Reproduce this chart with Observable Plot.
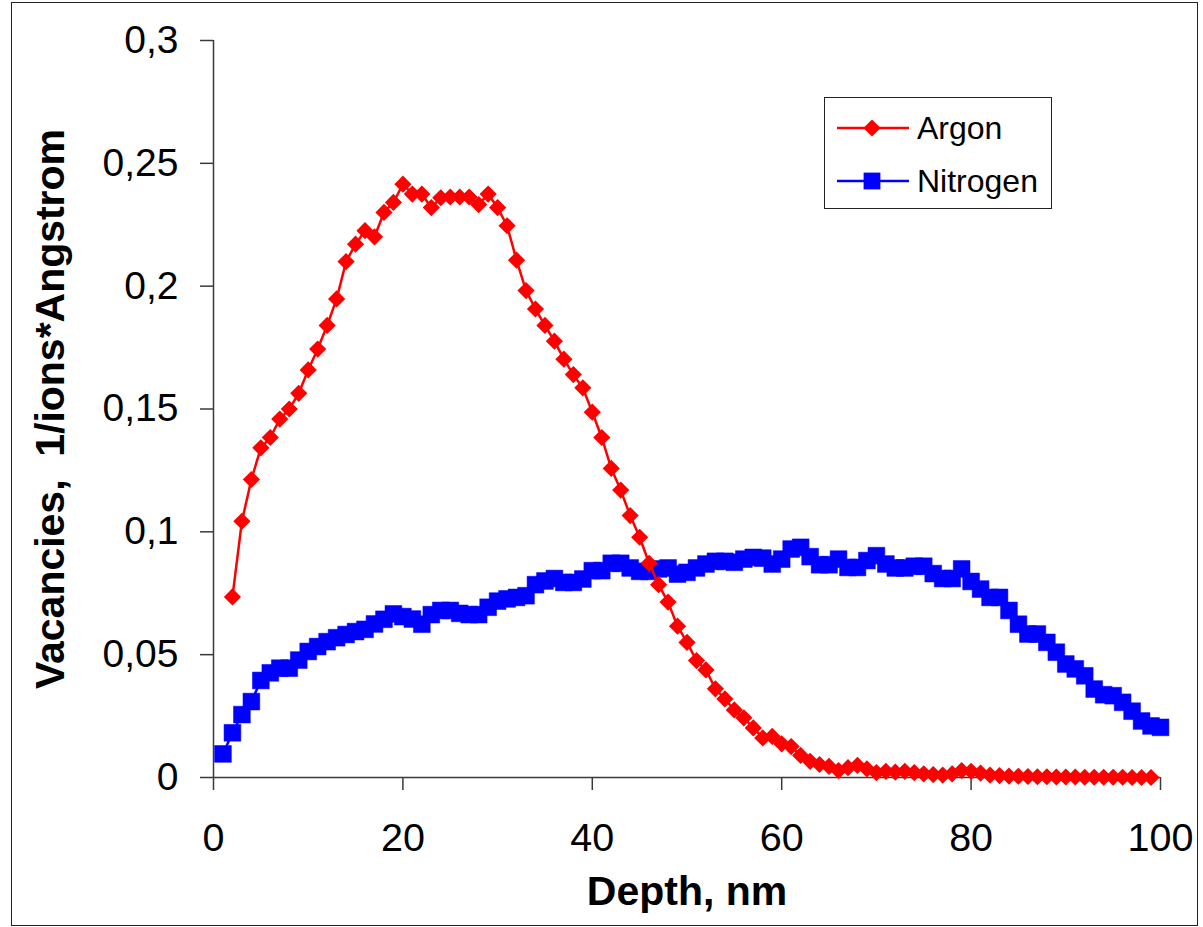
<!DOCTYPE html>
<html>
<head>
<meta charset="utf-8">
<script src="https://cdn.jsdelivr.net/npm/d3@7"></script>
<script src="https://cdn.jsdelivr.net/npm/@observablehq/plot@0.6"></script>
<style>
  html, body { margin: 0; padding: 0; background: #fff; }
  #wrap { position: relative; width: 1203px; height: 927px; font-family: "Liberation Sans", Arial, sans-serif; }
  #outer { position: absolute; left: 11px; top: 2px; width: 1187px; height: 924px; border: 1.5px solid #222; pointer-events: none; box-sizing: border-box; }
  #legend { position: absolute; left: 824px; top: 97px; width: 228px; height: 112px; border: 1.5px solid #222; background: #fff; box-sizing: border-box; }
  .lg-item { position: absolute; left: 0; width: 100%; height: 40px; }
  .lg-item svg { position: absolute; left: 0; top: 0; }
  .lg-item span { position: absolute; left: 92px; font-size: 32px; line-height: 32px; color: #000; white-space: nowrap; }
</style>
</head>
<body>
<div id="wrap">
  <div id="chart"></div>
  <div id="legend"></div>
  <div id="outer"></div>
</div>
<script>
// ---- Data ----
const seriesNames = ["Argon", "Nitrogen"];
const seriesColors = ["#ff0000", "#0000ff"];

const argonDepth = [
  2,3,4,5,6,7,8,9,10,11,
  12,13,14,15,16,17,18,19,20,21,
  22,23,24,25,26,27,28,29,30,31,
  32,33,34,35,36,37,38,39,40,41,
  42,43,44,45,46,47,48,49,50,51,
  52,53,54,55,56,57,58,59,60,61,
  62,63,64,65,66,67,68,69,70,71,
  72,73,74,75,76,77,78,79,80,81,
  82,83,84,85,86,87,88,89,90,91,
  92,93,94,95,96,97,98,99
];
const argonVacancies = [
  0.0735,0.1043,0.1213,0.1342,0.1384,0.1459,0.1500,0.1564,0.1659,0.1744,
  0.1840,0.1948,0.2100,0.2171,0.2226,0.2201,0.2300,0.2341,0.2415,0.2375,
  0.2375,0.2320,0.2360,0.2363,0.2363,0.2363,0.2332,0.2375,0.2320,0.2246,
  0.2106,0.1982,0.1907,0.1840,0.1776,0.1703,0.1640,0.1586,0.1487,0.1384,
  0.1258,0.1170,0.1066,0.0978,0.0872,0.0785,0.0714,0.0616,0.0550,0.0476,
  0.0438,0.0361,0.0320,0.0275,0.0243,0.0202,0.0161,0.0167,0.0137,0.0126,
  0.0090,0.0066,0.0053,0.0045,0.0028,0.0040,0.0049,0.0035,0.0020,0.0025,
  0.0022,0.0025,0.0020,0.0015,0.0012,0.0010,0.0015,0.0028,0.0025,0.0018,
  0.0010,0.0008,0.0006,0.0005,0.0004,0.0003,0.0003,0.0002,0.0002,0.0002,
  0.0001,0.0001,0.0001,0.0001,0.0001,0.0000,0.0000,0.0000
];

const nitrogenDepth = [
  1,2,3,4,5,6,7,8,9,10,
  11,12,13,14,15,16,17,18,19,20,
  21,22,23,24,25,26,27,28,29,30,
  31,32,33,34,35,36,37,38,39,40,
  41,42,43,44,45,46,47,48,49,50,
  51,52,53,54,55,56,57,58,59,60,
  61,62,63,64,65,66,67,68,69,70,
  71,72,73,74,75,76,77,78,79,80,
  81,82,83,84,85,86,87,88,89,90,
  91,92,93,94,95,96,97,98,99,100
];
const nitrogenVacancies = [
  0.0096,0.0182,0.0256,0.0309,0.0395,0.0426,0.0445,0.0445,0.0478,0.0513,
  0.0533,0.0553,0.0569,0.0582,0.0594,0.0603,0.0625,0.0644,0.0666,0.0655,
  0.0645,0.0624,0.0663,0.0680,0.0680,0.0668,0.0663,0.0663,0.0693,0.0718,
  0.0727,0.0733,0.0740,0.0785,0.0800,0.0810,0.0794,0.0794,0.0808,0.0842,
  0.0842,0.0872,0.0872,0.0853,0.0839,0.0839,0.0849,0.0853,0.0828,0.0835,
  0.0853,0.0869,0.0880,0.0880,0.0876,0.0889,0.0896,0.0893,0.0869,0.0889,
  0.0930,0.0937,0.0899,0.0866,0.0866,0.0889,0.0855,0.0855,0.0883,0.0903,
  0.0869,0.0853,0.0853,0.0860,0.0860,0.0830,0.0810,0.0810,0.0849,0.0798,
  0.0767,0.0733,0.0733,0.0680,0.0624,0.0584,0.0584,0.0550,0.0510,0.0462,
  0.0442,0.0414,0.0360,0.0337,0.0333,0.0306,0.0270,0.0230,0.0210,0.0204
];

const xTicks = [0, 20, 40, 60, 80, 100];
const xTickLabels = ["0", "20", "40", "60", "80", "100"];
const yTicks = [0, 0.05, 0.1, 0.15, 0.2, 0.25, 0.3];
const yTickLabels = ["0", "0,05", "0,1", "0,15", "0,2", "0,25", "0,3"];
const xTitle = "Depth, nm";
const yTitle = "Vacancies,  1/ions*Angstrom";

// ---- Build tables ----
const argon = argonDepth.map((d, i) => ({depth: d, v: argonVacancies[i]}));
const nitrogen = nitrogenDepth.map((d, i) => ({depth: d, v: nitrogenVacancies[i]}));

// Excel-like markers: rotated square (diamond) and square, half-size = r
const diamondSym = { draw(ctx, size) { const r = Math.sqrt(size / Math.PI); ctx.moveTo(0, -r); ctx.lineTo(r, 0); ctx.lineTo(0, r); ctx.lineTo(-r, 0); ctx.closePath(); } };
const squareSym = { draw(ctx, size) { const r = Math.sqrt(size / Math.PI); ctx.rect(-r, -r, 2 * r, 2 * r); } };

const axisColor = "#3a3a3a";

const plot = Plot.plot({
  width: 1203,
  height: 927,
  marginLeft: 213,
  marginRight: 43,
  marginTop: 40,
  marginBottom: 150,
  style: { fontFamily: "'Liberation Sans', Arial, sans-serif", background: "transparent", color: "#000" },
  x: { domain: [0, 100] },
  y: { domain: [0, 0.3] },
  marks: [
    Plot.axisX({ ticks: xTicks, tickFormat: (d, i) => xTickLabels[i], tickSize: 13, tickPadding: 32, label: null, fontSize: 39.5, stroke: axisColor, strokeWidth: 1.5 }),
    Plot.axisY({ ticks: yTicks, tickFormat: (d, i) => yTickLabels[i], tickSize: 13, tickPadding: 22, label: null, fontSize: 39, stroke: axisColor, strokeWidth: 1.5 }),
    Plot.ruleY([0], { stroke: axisColor, strokeWidth: 1.5 }),
    Plot.ruleX([0], { stroke: axisColor, strokeWidth: 1.5, y1: 0, y2: 0.3 }),
    Plot.line(nitrogen, { x: "depth", y: "v", stroke: seriesColors[1], strokeWidth: 2.5 }),
    Plot.dot(nitrogen, { x: "depth", y: "v", symbol: squareSym, r: 8.4, fill: seriesColors[1], stroke: seriesColors[1], strokeWidth: 0.5 }),
    Plot.line(argon, { x: "depth", y: "v", stroke: seriesColors[0], strokeWidth: 2.5 }),
    Plot.dot(argon, { x: "depth", y: "v", symbol: diamondSym, r: 8.6, fill: seriesColors[0], stroke: "none" }),
    Plot.text([xTitle], { text: d => d, frameAnchor: "bottom", textAnchor: "middle", dy: 127, fontSize: 41, fontWeight: "bold", fill: "#000" }),
    Plot.text([yTitle], { text: d => d, frameAnchor: "left", textAnchor: "middle", rotate: -90, dx: -162, fontSize: 40, fontWeight: "bold", fill: "#000" })
  ]
});
document.getElementById("chart").appendChild(plot);

// match the original title length
d3.select(plot).selectAll("text")
  .filter(function() { return this.textContent === yTitle; })
  .attr("textLength", 560)
  .attr("lengthAdjust", "spacingAndGlyphs");

// ---- Legend (HTML overlay) ----
const legend = d3.select("#legend");
const rowsTop = [13, 66];
seriesNames.forEach((name, i) => {
  const item = legend.append("div").attr("class", "lg-item").style("top", rowsTop[i] + "px");
  const svg = item.append("svg").attr("width", 90).attr("height", 40);
  svg.append("line").attr("x1", 12).attr("x2", 84).attr("y1", 17).attr("y2", 17)
    .attr("stroke", seriesColors[i]).attr("stroke-width", 2.5);
  if (i === 0) {
    svg.append("path").attr("d", "M47,8.4L55.6,17L47,25.6L38.4,17Z").attr("fill", seriesColors[i]);
  } else {
    svg.append("rect").attr("x", 38.6).attr("y", 8.6).attr("width", 16.8).attr("height", 16.8).attr("fill", seriesColors[i]);
  }
  item.append("span").style("top", "1px").text(name);
});
</script>
</body>
</html>
